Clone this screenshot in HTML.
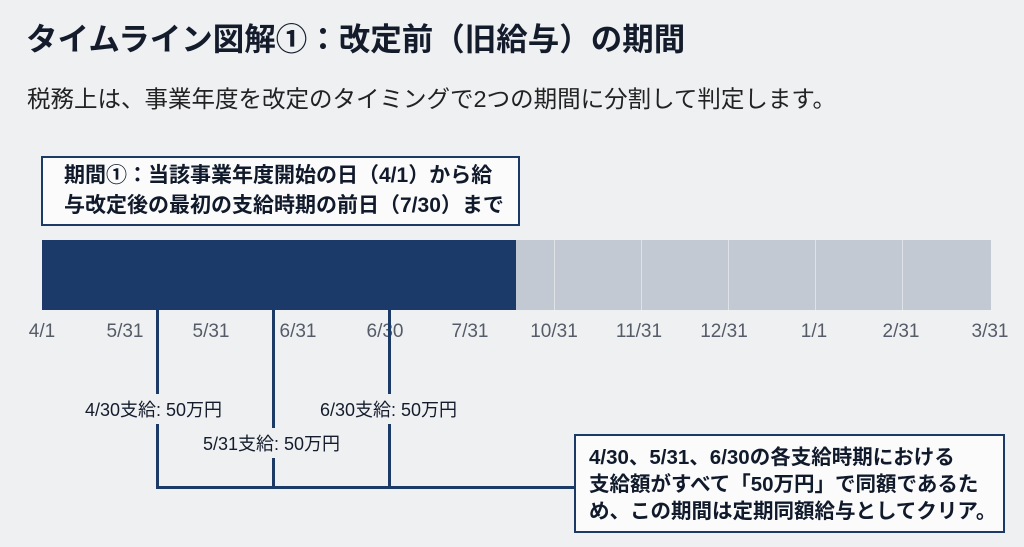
<!DOCTYPE html>
<html><head><meta charset="utf-8"><style>
body{margin:0;width:1024px;height:547px;background:#eff0f2;font-family:"Liberation Sans","Noto Sans CJK JP",sans-serif;color:#141c2c;position:relative;overflow:hidden}
.a{position:absolute;white-space:nowrap}
.box{position:absolute;border:2.5px solid #1b3a66;background:#fbfbfc;box-sizing:border-box;font-weight:bold;color:#111a2b;white-space:nowrap}
.t{font-size:19px;color:#555c68;top:321px;transform:translateX(-50%)}
.l{position:absolute;background:#1b3a66}
.c{font-size:18px;background:#eff0f2;padding:2px 0}
</style></head><body>
<div class="a" style="left:26px;top:14px;font-size:31.5px;font-weight:bold">タイムライン図解①：改定前（旧給与）の期間</div>
<div class="a" style="left:27px;top:80px;font-size:23.5px;color:#222">税務上は、事業年度を改定のタイミングで2つの期間に分割して判定します。</div>
<div class="box" style="left:41px;top:156px;width:479px;height:70px;font-size:21px;line-height:30px;padding:3px 0 0 21px">期間①：当該事業年度開始の日（4/1）から給<br>与改定後の最初の支給時期の前日（7/30）まで</div>
<div class="a" style="left:42px;top:240px;width:949px;height:70px;background:#c3c9d3"></div>
<div class="a" style="left:42px;top:240px;width:474px;height:70px;background:#1b3a69"></div>
<div class="a" style="left:554px;top:240px;width:1px;height:70px;background:#dfe2e7"></div>
<div class="a" style="left:641px;top:240px;width:1px;height:70px;background:#dfe2e7"></div>
<div class="a" style="left:728px;top:240px;width:1px;height:70px;background:#dfe2e7"></div>
<div class="a" style="left:815px;top:240px;width:1px;height:70px;background:#dfe2e7"></div>
<div class="a" style="left:902px;top:240px;width:1px;height:70px;background:#dfe2e7"></div>
<div class="a t" style="left:42px">4/1</div>
<div class="a t" style="left:125px">5/31</div>
<div class="a t" style="left:211px">5/31</div>
<div class="a t" style="left:298px">6/31</div>
<div class="a t" style="left:385px">6/30</div>
<div class="a t" style="left:470px">7/31</div>
<div class="a t" style="left:554px">10/31</div>
<div class="a t" style="left:639px">11/31</div>
<div class="a t" style="left:724px">12/31</div>
<div class="a t" style="left:814px">1/1</div>
<div class="a t" style="left:901px">2/31</div>
<div class="a t" style="left:990px">3/31</div>
<div class="l" style="left:156px;top:310px;width:2.5px;height:178px"></div>
<div class="l" style="left:272px;top:310px;width:2.5px;height:178px"></div>
<div class="l" style="left:388px;top:310px;width:2.5px;height:178px"></div>
<div class="l" style="left:156px;top:486px;width:420px;height:2.5px"></div>
<div class="a c" style="left:85px;top:394px">4/30支給: 50万円</div>
<div class="a c" style="left:203px;top:428px">5/31支給: 50万円</div>
<div class="a c" style="left:320px;top:394px">6/30支給: 50万円</div>
<div class="box" style="left:574px;top:434px;width:431px;height:99px;font-size:20.5px;line-height:27px;padding:8px 0 0 13px">4/30、5/31、6/30の各支給時期における<br>支給額がすべて「50万円」で同額であるた<br>め、この期間は定期同額給与としてクリア。</div>
</body></html>
